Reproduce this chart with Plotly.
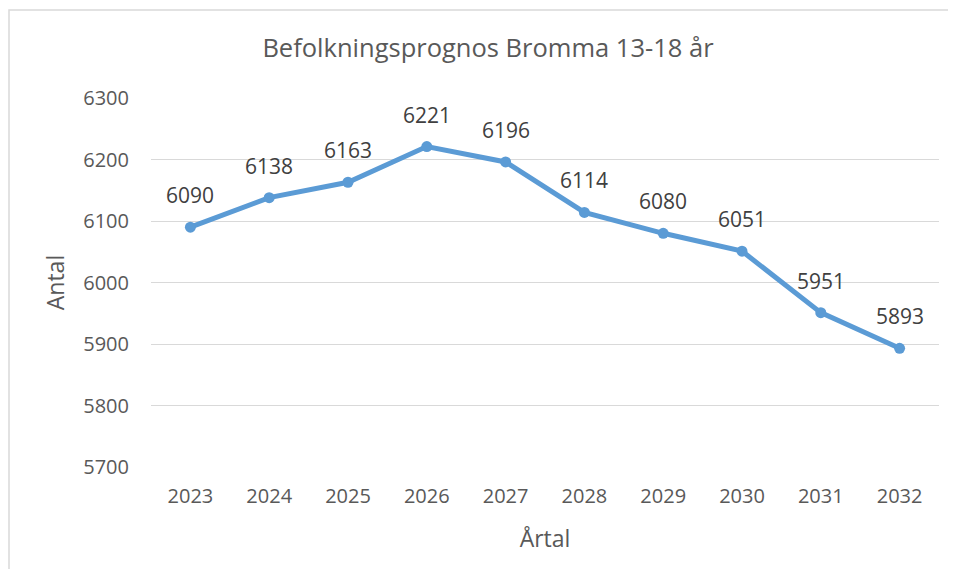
import plotly.graph_objects as go

years = ["2023", "2024", "2025", "2026", "2027", "2028", "2029", "2030", "2031", "2032"]
values = [6090, 6138, 6163, 6221, 6196, 6114, 6080, 6051, 5951, 5893]
title = "Befolkningsprognos Bromma 13-18 år"
y_title = "Antal"
x_title = "Årtal"
y_ticks = [5700, 5800, 5900, 6000, 6100, 6200, 6300]

FONT = "Open Sans"
LINE = "#5B9BD5"

fig = go.Figure()
fig.add_trace(go.Scatter(
    x=years, y=values, mode="lines+markers",
    line=dict(color=LINE, width=5),
    marker=dict(color=LINE, size=11),
    hoverinfo="x+y", showlegend=False,
))

for i, v in enumerate(values):
    fig.add_annotation(x=i, y=v, text=str(v), showarrow=False, yshift=32,
                       font=dict(family=FONT, size=21, color="#404040"))

# page has 8px body margin
OFF = 8
W, H = 956 - 2 * OFF, 577 - 2 * OFF
L, T = 151 - OFF, 98 - OFF
R = W - (939 - OFF)
B = H - (467 - OFF)
pw, ph = W - L - R, H - T - B
fig.add_shape(type="rect", xref="paper", yref="paper",
              x0=(1 - L) / pw, x1=(W + 20 - L) / pw,
              y0=-(B + 20) / ph, y1=1 + (T - (10 - OFF)) / ph,
              line=dict(color="#D9D9D9", width=1.5), fillcolor="rgba(0,0,0,0)", layer="below")

fig.update_layout(
    width=W, height=H,
    margin=dict(l=L, r=R, t=T, b=B, autoexpand=False),
    paper_bgcolor="white", plot_bgcolor="white",
    font=dict(family=FONT, color="#595959"),
    title=dict(text=title, x=(488 - OFF) / W, xanchor="center", y=1 - (48 - OFF) / H, yanchor="middle",
               font=dict(family=FONT, size=25.5, color="#595959")),
    xaxis=dict(
        type="category", range=[-0.5, 9.5], showgrid=False, zeroline=False, showline=False,
        tickfont=dict(family=FONT, size=20, color="#595959"), ticks="", ticklabelstandoff=15,
        title=dict(text=x_title, font=dict(family=FONT, size=23, color="#595959"), standoff=22),
    ),
    yaxis=dict(
        range=[5700, 6300], tickvals=y_ticks, showgrid=True, gridcolor="#D9D9D9", gridwidth=1.3,
        zeroline=False, showline=False, ticks="", ticklabelstandoff=21,
        tickfont=dict(family=FONT, size=20, color="#595959"),
        title=dict(text=y_title, font=dict(family=FONT, size=23, color="#595959"), standoff=12),
    ),
)

fig.write_html("out.html")
